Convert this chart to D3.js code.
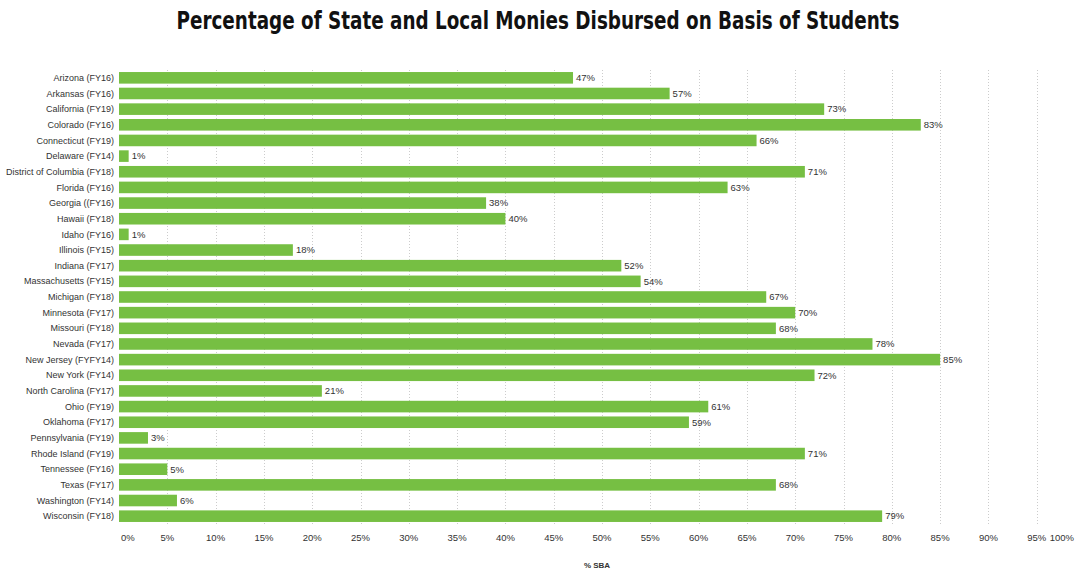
<!DOCTYPE html>
<html>
<head>
<meta charset="utf-8">
<script src="https://cdn.jsdelivr.net/npm/d3@7"></script>
<style>
  body { margin: 0; background: #fff; }
  svg { display: block; font-family: "Liberation Sans", Arial, sans-serif; }
</style>
</head>
<body>
<div id="chart"></div>
<script>
// Chart data
const states = [
  "Arizona (FY16)", "Arkansas (FY16)", "California (FY19)", "Colorado (FY16)",
  "Connecticut (FY19)", "Delaware (FY14)", "District of Columbia (FY18)", "Florida (FY16)",
  "Georgia ((FY16)", "Hawaii (FY18)", "Idaho (FY16)", "Illinois (FY15)",
  "Indiana (FY17)", "Massachusetts (FY15)", "Michigan (FY18)", "Minnesota (FY17)",
  "Missouri (FY18)", "Nevada (FY17)", "New Jersey (FYFY14)", "New York (FY14)",
  "North Carolina (FY17)", "Ohio (FY19)", "Oklahoma (FY17)", "Pennsylvania (FY19)",
  "Rhode Island (FY19)", "Tennessee (FY16)", "Texas (FY17)", "Washington (FY14)",
  "Wisconsin (FY18)"
];
const sbaPercent = [
  47, 57, 73, 83, 66, 1, 71, 63, 38, 40, 1, 18, 52, 54, 67, 70,
  68, 78, 85, 72, 21, 61, 59, 3, 71, 5, 68, 6, 79
];
const tickValues = d3.range(0, 101, 5);

const width = 1075;
const height = 573;
const margin = { top: 70, right: -10, bottom: 49, left: 119 };

const svg = d3.select("#chart")
  .append("svg")
  .attr("width", width)
  .attr("height", height);

// Title
svg.append("text")
  .attr("x", 538)
  .attr("y", 29)
  .attr("text-anchor", "middle")
  .attr("font-family", "'Liberation Sans Narrow', 'DejaVu Sans Condensed', sans-serif")
  .attr("font-weight", "bold")
  .attr("font-size", 24)
  .attr("textLength", 723)
  .attr("lengthAdjust", "spacingAndGlyphs")
  .attr("fill", "#111")
  .text("Percentage of State and Local Monies Disbursed on Basis of Students");

// Scales
const x = d3.scaleLinear()
  .domain([0, 100])
  .range([margin.left, width - margin.right]);

const y = d3.scaleBand()
  .domain(states)
  .range([margin.top, height - margin.bottom])
  .paddingInner(0.26)
  .paddingOuter(0.13);

// Dotted gridlines
svg.append("g")
  .selectAll("line")
  .data(tickValues.filter(d => d > 0))
  .enter()
  .append("line")
  .attr("x1", d => Math.round(x(d)) + 0.5)
  .attr("x2", d => Math.round(x(d)) + 0.5)
  .attr("y1", margin.top)
  .attr("y2", height - margin.bottom)
  .attr("stroke", "#cccccc")
  .attr("stroke-width", 1)
  .attr("stroke-dasharray", "1,2");

// Bars
svg.append("g")
  .selectAll("rect")
  .data(states)
  .enter()
  .append("rect")
  .attr("x", x(0))
  .attr("y", d => y(d))
  .attr("width", (d, i) => x(sbaPercent[i]) - x(0))
  .attr("height", y.bandwidth())
  .attr("fill", "#76bf43");

// Value labels
svg.append("g")
  .selectAll("text")
  .data(states)
  .enter()
  .append("text")
  .attr("x", (d, i) => x(sbaPercent[i]) + 3)
  .attr("y", d => y(d) + y.bandwidth() / 2)
  .attr("dy", "0.35em")
  .attr("font-size", 9.5)
  .attr("fill", "#333")
  .text((d, i) => sbaPercent[i] + "%");

// Category axis labels
svg.append("g")
  .selectAll("text")
  .data(states)
  .enter()
  .append("text")
  .attr("x", 114)
  .attr("y", d => y(d) + y.bandwidth() / 2)
  .attr("dy", "0.35em")
  .attr("text-anchor", "end")
  .attr("font-size", 9)
  .attr("fill", "#333")
  .text(d => d);

// X tick labels (first and last pulled inside the frame)
const last = tickValues.length - 1;
svg.append("g")
  .selectAll("text")
  .data(tickValues)
  .enter()
  .append("text")
  .attr("x", (d, i) => i === 0 ? x(d) + 2 : i === last ? width - 1 : x(d))
  .attr("y", 541)
  .attr("text-anchor", (d, i) => i === 0 ? "start" : i === last ? "end" : "middle")
  .attr("font-size", 9.5)
  .attr("fill", "#333")
  .text(d => d + "%");

// X axis title
svg.append("text")
  .attr("x", 597)
  .attr("y", 568)
  .attr("text-anchor", "middle")
  .attr("font-size", 8)
  .attr("font-weight", "bold")
  .attr("fill", "#333")
  .text("% SBA");
</script>
</body>
</html>
